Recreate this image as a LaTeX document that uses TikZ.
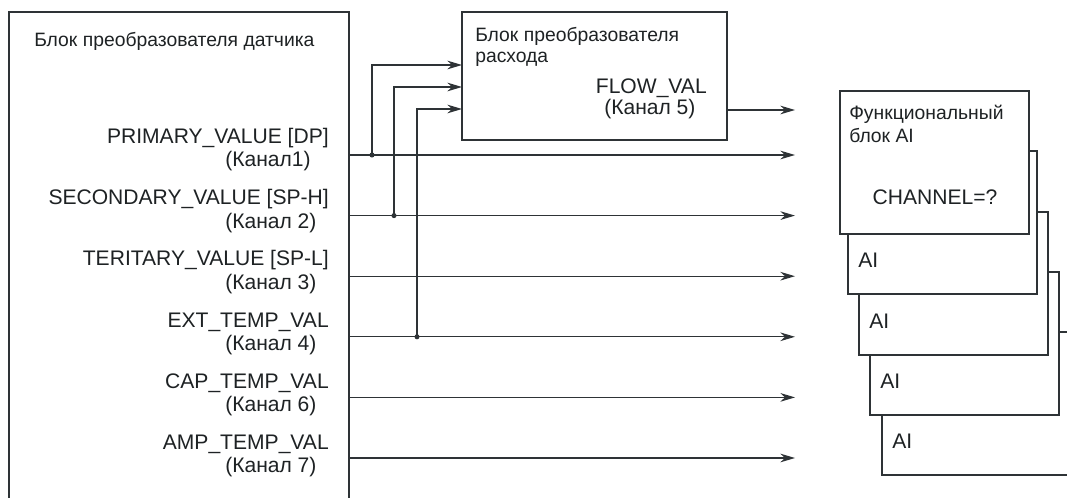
\documentclass[tikz,border=0pt]{standalone}
\usepackage{fontspec}
\setmainfont{Liberation Sans}
\usetikzlibrary{arrows.meta}
\definecolor{ink}{HTML}{2E3336}
\definecolor{txt}{HTML}{1E2224}
\begin{document}
\begin{tikzpicture}[x=0.75pt,y=-0.75pt,
  every node/.style={font=\fontsize{15.8}{18}\selectfont, text=txt},
  box/.style={draw=ink, line width=0.9pt, fill=white, inner sep=0pt, outer sep=0pt, anchor=north west},
  lbl/.style={inner sep=0pt},
  head/.style={inner sep=0pt, font=\fontsize{14.5}{17}\selectfont},
  arr/.style={draw=ink, line width=0.9pt, -{Stealth[length=11pt,width=6.5pt,inset=3.5pt]}},
  wire/.style={draw=ink, line width=0.9pt},
  dot/.style={fill=ink}]
\useasboundingbox (0,0) rectangle (1067,498);
\clip (0,0) rectangle (1067,498);
% sensor transducer block
\node[box, minimum width=255pt, minimum height=370pt] (sensor) at (9,12) {};
\node[head, anchor=base west] (stitle) at (34,47) {Блок преобразователя датчика};
% flow transducer block
\node[box, minimum width=198.75pt, minimum height=96pt] (flow) at (462,12) {};
\node[head, anchor=base west] (ft1) at (475,42) {Блок преобразователя};
\node[head, anchor=base west] (ft2) at (475,63) {расхода};
\node[lbl, anchor=base east] (ft3) at (707,94) {FLOW\_VAL};
\node[lbl, anchor=base west] (ft4) at (604,115) {(Канал 5)};
% AI blocks (back to front)
\node[box, minimum width=141.75pt, minimum height=107.25pt] (ai5) at (882,332) {};
\node[lbl, anchor=base west] (ai5t) at (892,449) {AI};
\node[box, minimum width=141.75pt, minimum height=107.25pt] (ai4) at (870,272) {};
\node[lbl, anchor=base west] (ai4t) at (880,389) {AI};
\node[box, minimum width=141.75pt, minimum height=107.25pt] (ai3) at (859,212) {};
\node[lbl, anchor=base west] (ai3t) at (869,329) {AI};
\node[box, minimum width=141.75pt, minimum height=107.25pt] (ai2) at (848,151) {};
\node[lbl, anchor=base west] (ai2t) at (858,268) {AI};
\node[box, minimum width=141.75pt, minimum height=107.25pt] (ai1) at (840,91) {};
\node[head, anchor=base west] (ai1a) at (849,120) {Функциональный};
\node[head, anchor=base west] (ai1b) at (849,143) {блок AI};
\node[lbl, anchor=base] (ai1c) at (935,205) {CHANNEL=?};
% channel labels
\node[lbl, anchor=base east] (c1a) at (329,143.5) {PRIMARY\_VALUE [DP]};
\node[lbl, anchor=base west] (c1b) at (225,167) {(Канал1)};
\node[lbl, anchor=base east] (c2a) at (329,204.7) {SECONDARY\_VALUE [SP-H]};
\node[lbl, anchor=base west] (c2b) at (225,228.2) {(Канал 2)};
\node[lbl, anchor=base east] (c3a) at (329,265.9) {TERITARY\_VALUE [SP-L]};
\node[lbl, anchor=base west] (c3b) at (225,289.4) {(Канал 3)};
\node[lbl, anchor=base east] (c4a) at (329,327.1) {EXT\_TEMP\_VAL};
\node[lbl, anchor=base west] (c4b) at (225,350.6) {(Канал 4)};
\node[lbl, anchor=base east] (c6a) at (329,388.3) {CAP\_TEMP\_VAL};
\node[lbl, anchor=base west] (c6b) at (225,411.8) {(Канал 6)};
\node[lbl, anchor=base east] (c7a) at (329,449.5) {AMP\_TEMP\_VAL};
\node[lbl, anchor=base west] (c7b) at (225,473) {(Канал 7)};
% arrow end points
\coordinate (o1) at (795,155);
\coordinate (o2) at (795,215.6);
\coordinate (o3) at (795,276.2);
\coordinate (o4) at (795,336.8);
\coordinate (o6) at (795,397.4);
\coordinate (o7) at (795,458);
\coordinate (of) at (795,110);
\coordinate (fi1) at (462,65);
\coordinate (fi2) at (462,87);
\coordinate (fi3) at (462,109);
\coordinate (t1) at (372,155);
\coordinate (t2) at (394,215.6);
\coordinate (t4) at (417,336.8);
% connectors
\foreach \o in {o1,o2,o3,o4,o6,o7}
  \draw[arr] (sensor.east |- \o) -- (\o);
\draw[arr] (flow.east |- of) -- (of);
\draw[arr] (t1) |- (fi1);
\draw[arr] (t2) |- (fi2);
\draw[arr] (t4) |- (fi3);
\fill[dot] (t1) circle (1.9pt);
\fill[dot] (t2) circle (1.9pt);
\fill[dot] (t4) circle (1.9pt);
\end{tikzpicture}
\end{document}
